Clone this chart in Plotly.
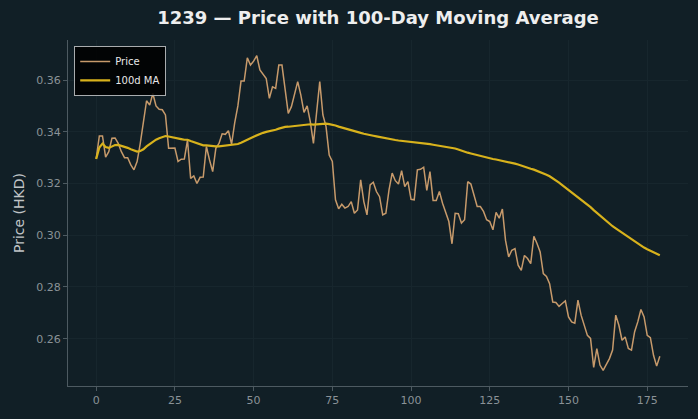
import pandas as pd
import plotly.graph_objects as go

title_text = "1239 — Price with 100-Day Moving Average"
y_label = "Price (HKD)"
ma_window = 100

price = [
    0.3295, 0.3384, 0.3384, 0.3302, 0.3323, 0.3375, 0.3376, 0.3355, 0.3323, 0.3300,
    0.3300, 0.3272, 0.3253, 0.3285, 0.3355, 0.3433, 0.3520, 0.3503, 0.3548, 0.3500,
    0.3487, 0.3485, 0.3465, 0.3336, 0.3337, 0.3337, 0.3285, 0.3294, 0.3295, 0.3368,
    0.3220, 0.3229, 0.3200, 0.3224, 0.3225, 0.3343, 0.3291, 0.3246, 0.3336, 0.3355,
    0.3392, 0.3390, 0.3404, 0.3352, 0.3435, 0.3500, 0.3596, 0.3596, 0.3686, 0.3658,
    0.3673, 0.3694, 0.3639, 0.3622, 0.3606, 0.3529, 0.3574, 0.3568, 0.3658, 0.3658,
    0.3568, 0.3471, 0.3497, 0.3545, 0.3594, 0.3542, 0.3475, 0.3500, 0.3439, 0.3355,
    0.3484, 0.3594, 0.3465, 0.3420, 0.3310, 0.3285, 0.3137, 0.3102, 0.3120, 0.3105,
    0.3111, 0.3130, 0.3085, 0.3098, 0.3214, 0.3130, 0.3079, 0.3195, 0.3205, 0.3169,
    0.3149, 0.3079, 0.3085, 0.3175, 0.3240, 0.3211, 0.3198, 0.3250, 0.3188, 0.3207,
    0.3139, 0.3137, 0.3253, 0.3255, 0.3263, 0.3173, 0.3246, 0.3134, 0.3134, 0.3169,
    0.3124, 0.3092, 0.3053, 0.2967, 0.3085, 0.3083, 0.3047, 0.3060, 0.3207, 0.3198,
    0.3156, 0.3111, 0.3111, 0.3092, 0.3060, 0.3053, 0.3021, 0.3088, 0.3066, 0.3101,
    0.2980, 0.2916, 0.2942, 0.2948, 0.2884, 0.2864, 0.2922, 0.2910, 0.2890, 0.2996,
    0.2968, 0.2935, 0.2852, 0.2841, 0.2813, 0.2742, 0.2740, 0.2725, 0.2736, 0.2746,
    0.2684, 0.2665, 0.2660, 0.2749, 0.2691, 0.2652, 0.2613, 0.2601, 0.2489, 0.2562,
    0.2498, 0.2478, 0.2498, 0.2523, 0.2556, 0.2691, 0.2652, 0.2594, 0.2607, 0.2562,
    0.2556, 0.2627, 0.2665, 0.2713, 0.2684, 0.2613, 0.2604, 0.2536, 0.2494, 0.2532,
]
day = list(range(len(price)))
ma = pd.Series(price).rolling(ma_window, min_periods=1).mean().tolist()

x_ticks = [0, 25, 50, 75, 100, 125, 150, 175]
y_ticks = [0.26, 0.28, 0.30, 0.32, 0.34, 0.36]

BG = "#111f26"
GRID = "#17262d"
SPINE = "#4d5a61"
TICKC = "#8a9297"

fig = go.Figure()
fig.add_trace(go.Scatter(x=day, y=price, mode="lines", name="Price",
                         line=dict(color="#c79a6b", width=1.5)))
fig.add_trace(go.Scatter(x=day, y=ma, mode="lines", name="100d MA",
                         line=dict(color="#d8b21c", width=2.2)))

n = len(price)
pad_x = (n - 1) * 0.05
lo, hi = min(min(price), min(ma)), max(max(price), max(ma))
pad_y = (hi - lo) * 0.05

fig.update_layout(
    width=698, height=419,
    paper_bgcolor=BG, plot_bgcolor=BG,
    margin=dict(l=68, r=10, t=40, b=33),
    title=dict(text=title_text, x=(68 + 310) / 698, xanchor="center", y=0.957, yanchor="middle",
               font=dict(family="DejaVu Sans", size=18, color="#eeeeee", weight="bold")),
    font=dict(family="DejaVu Sans", color=TICKC),
    showlegend=True,
    legend=dict(x=0.01, y=0.983, xanchor="left", yanchor="top",
                bgcolor="rgba(0,0,0,0.85)", bordercolor="#a9acae", borderwidth=1,
                font=dict(family="DejaVu Sans", size=10, color="#e8e8e8"),
                itemwidth=30, tracegroupgap=0),
    xaxis=dict(range=[-pad_x, n - 1 + pad_x], tickvals=x_ticks, showgrid=True, gridcolor=GRID,
               gridwidth=1, zeroline=False, showline=True, linecolor=SPINE, linewidth=1,
               ticks="outside", ticklen=4, tickcolor=SPINE,
               tickfont=dict(size=11, color=TICKC)),
    yaxis=dict(range=[lo - pad_y, hi + pad_y], tickvals=y_ticks, tickformat=".2f",
               showgrid=True, gridcolor=GRID, gridwidth=1, zeroline=False,
               showline=True, linecolor=SPINE, linewidth=1,
               ticks="outside", ticklen=4, tickcolor=SPINE,
               tickfont=dict(size=11, color=TICKC),
               title=dict(text=y_label, font=dict(size=14, color="#c0c4c6"), standoff=8)),
)

fig.write_html("out.html")
